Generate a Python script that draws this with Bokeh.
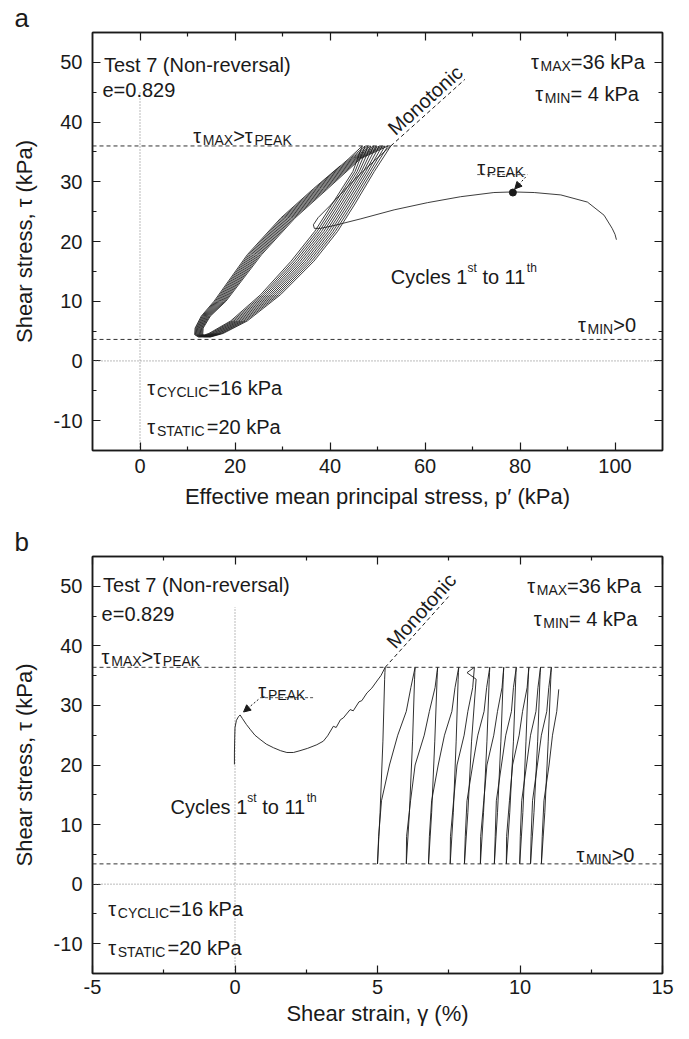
from bokeh.plotting import figure
from bokeh.models import (Range1d, FixedTicker, LinearAxis, CustomJSTickFormatter,
                          Title, Arrow, NormalHead, Span)
from bokeh.layouts import column
from bokeh.embed import file_html
from bokeh.resources import INLINE
from bokeh.core.properties import value

FONT = "Liberation Sans"
INK = "#1a1a1a"

# ======================= DATA: panel a (stress path) =======================
mono_a_p = [100.3, 100.0, 99.4, 97.7, 94.2, 88.6, 83.0, 78.5, 74.5, 67.5, 60.5, 53.5,
            46.5, 41.0, 38.0, 36.7, 36.5, 37.5, 40.0, 43.5, 47.0, 50.0, 52.8]
mono_a_tau = [20.3, 21.2, 22.2, 24.4, 26.6, 27.8, 28.2, 28.3, 28.2, 27.5, 26.5, 25.3,
              23.8, 22.7, 22.2, 22.2, 22.8, 24.0, 26.0, 29.0, 31.8, 34.0, 36.0]

tau_a_unload = [36.0, 31.7, 26.1, 21.7, 16.7, 11.1, 6.7, 4.6, 4.0]
p_a_unload = [
    [52.8, 49.3, 45.1, 41.6, 36.6, 29.6, 22.6, 17.5, 14.8],
    [52.2, 48.85, 44.62, 41.12, 36.12, 29.18, 22.25, 17.2, 14.55],
    [51.6, 48.4, 44.14, 40.64, 35.64, 28.76, 21.9, 16.9, 14.3],
    [51.0, 47.95, 43.66, 40.16, 35.16, 28.34, 21.55, 16.6, 14.05],
    [50.4, 47.5, 43.18, 39.68, 34.68, 27.92, 21.2, 16.3, 13.8],
    [49.8, 47.05, 42.7, 39.2, 34.2, 27.5, 20.85, 16.0, 13.55],
    [49.2, 46.6, 42.22, 38.72, 33.72, 27.08, 20.5, 15.7, 13.3],
    [48.6, 46.15, 41.74, 38.24, 33.24, 26.66, 20.15, 15.4, 13.05],
    [48.0, 45.7, 41.26, 37.76, 32.76, 26.24, 19.8, 15.1, 12.8],
    [47.4, 45.25, 40.78, 37.28, 32.28, 25.82, 19.45, 14.8, 12.55],
    [46.8, 44.8, 40.3, 36.8, 31.8, 25.4, 19.1, 14.5, 12.3],
]
tau_a_load = [4.0, 4.4, 5.5, 7.5, 10.0, 17.8, 23.9, 28.9, 33.9, 36.0]
tau_a_load_last = [4.0, 4.4, 5.5, 7.5, 10.0, 17.8, 23.9, 28.9, 32.7]
p_a_load = [
    [14.8, 13.2, 13.3, 14.8, 18.1, 25.6, 32.6, 39.6, 46.5, 52.2],
    [14.55, 13.03, 13.13, 14.61, 17.85, 25.3, 32.3, 39.3, 46.22, 51.6],
    [14.3, 12.86, 12.96, 14.42, 17.6, 25.0, 32.0, 39.0, 45.94, 51.0],
    [14.05, 12.69, 12.79, 14.23, 17.35, 24.7, 31.7, 38.7, 45.66, 50.4],
    [13.8, 12.52, 12.62, 14.04, 17.1, 24.4, 31.4, 38.4, 45.38, 49.8],
    [13.55, 12.35, 12.45, 13.85, 16.85, 24.1, 31.1, 38.1, 45.1, 49.2],
    [13.3, 12.18, 12.28, 13.66, 16.6, 23.8, 30.8, 37.8, 44.82, 48.6],
    [13.05, 12.01, 12.11, 13.47, 16.35, 23.5, 30.5, 37.5, 44.54, 48.0],
    [12.8, 11.84, 11.94, 13.28, 16.1, 23.2, 30.2, 37.2, 44.26, 47.4],
    [12.55, 11.67, 11.77, 13.09, 15.85, 22.9, 29.9, 36.9, 43.98, 46.8],
    [12.3, 11.5, 11.6, 12.9, 15.6, 22.6, 29.6, 36.6, 42.2],
]
peak_a = (78.5, 28.2)
tau_max_line_a = 36.0
tau_min_line_a = 3.6

# ======================= DATA: panel b (stress-strain) =======================
mono_b_g = [-0.02, -0.02, -0.01, 0.00, 0.05, 0.12, 0.18, 0.26, 0.40, 0.53, 0.70, 0.88,
            1.10, 1.35, 1.60, 1.82, 2.05, 2.28, 2.55, 2.87, 3.10, 3.25, 3.45, 3.55,
            3.70, 3.80, 4.04, 4.15, 4.35, 4.45, 4.63, 4.80, 4.98, 5.12, 5.27]
mono_b_tau = [20.1, 22.0, 24.5, 26.3, 27.5, 28.1, 28.4, 27.8, 26.8, 26.0, 25.0, 24.3,
              23.5, 22.9, 22.4, 22.1, 22.1, 22.4, 22.8, 23.4, 24.0, 24.9, 26.5, 26.3,
              27.6, 27.9, 29.3, 29.1, 30.6, 30.8, 32.1, 32.9, 34.1, 35.0, 36.4]

tau_b_unload = [36.4, 35.5, 34.4, 24.0, 12.0, 3.4]
g_b_unload = [
    [5.27, 5.26, 5.25, 5.19, 5.09, 5.00],
    [6.32, 6.31, 6.30, 6.23, 6.12, 6.01],
    [7.11, 7.10, 7.09, 7.01, 6.90, 6.79],
    [7.85, 7.84, 7.83, 7.76, 7.66, 7.55],
    [8.40, 8.14, 8.46, 8.30, 8.17, 8.05],
    [8.94, 8.93, 8.92, 8.84, 8.72, 8.61],
    [9.43, 9.42, 9.41, 9.33, 9.21, 9.10],
    [9.87, 9.86, 9.85, 9.77, 9.64, 9.52],
    [10.31, 10.30, 10.29, 10.21, 10.10, 9.99],
    [10.72, 10.71, 10.70, 10.62, 10.49, 10.37],
    [11.10, 11.09, 11.08, 10.99, 10.87, 10.75],
]
tau_b_load = [3.4, 8.0, 14.0, 20.0, 25.0, 29.0, 33.0, 36.4]
tau_b_load_last = [3.4, 8.0, 14.0, 20.0, 25.0, 29.0, 32.7]
g_b_load = [
    [5.00, 5.04, 5.14, 5.42, 5.71, 6.01, 6.17, 6.32],
    [6.01, 6.02, 6.16, 6.32, 6.64, 6.82, 7.02, 7.11],
    [6.79, 6.82, 6.90, 7.13, 7.35, 7.61, 7.72, 7.85],
    [7.55, 7.56, 7.67, 7.79, 8.04, 8.17, 8.34, 8.40],
    [8.05, 8.08, 8.14, 8.34, 8.52, 8.74, 8.83, 8.94],
    [8.61, 8.62, 8.73, 8.84, 9.08, 9.21, 9.37, 9.43],
    [9.10, 9.13, 9.17, 9.35, 9.50, 9.70, 9.77, 9.87],
    [9.52, 9.53, 9.63, 9.74, 9.97, 10.09, 10.25, 10.31],
    [9.99, 10.01, 10.06, 10.23, 10.37, 10.56, 10.63, 10.72],
    [10.37, 10.39, 10.44, 10.61, 10.75, 10.94, 11.01, 11.10],
    [10.75, 10.78, 10.84, 11.02, 11.14, 11.29, 11.36],
]
tau_max_line_b = 36.4
tau_min_line_b = 3.4

# axis ticks
y_ticks = [-10, 0, 10, 20, 30, 40, 50]
y_minor = [-5, 5, 15, 25, 35, 45]
xa_ticks = [0, 20, 40, 60, 80, 100]
xa_minor = [10, 30, 50, 70, 90]
xb_ticks = [-5, 0, 5, 10, 15]
xb_minor = [-2.5, 2.5, 7.5, 12.5]

# ======================= helpers =======================
W = {' ': 278, '(': 333, ')': 333, '-': 333, '.': 278, ',': 278, '=': 584, '>': 584,
     '%': 889, 'τ': 480,
     'A': 667, 'C': 722, 'E': 667, 'I': 278, 'K': 667, 'L': 556, 'M': 833, 'N': 722,
     'P': 667, 'S': 667, 'T': 611, 'X': 667, 'Y': 667,
     'a': 556, 'c': 500, 'e': 556, 'h': 556, 'i': 222, 'k': 500, 'l': 222, 'n': 556,
     'o': 556, 'r': 333, 's': 500, 't': 278, 'v': 500, 'y': 500}


def tw(s, size):
    return sum(W.get(ch, 556) for ch in s) / 1000.0 * size


def rich(p, x, y, parts, size=20):
    off = 0.0
    for s, kind in parts:
        fs = {"n": size, "sub": 14, "sup": 12}[kind]
        dy = {"n": 0, "sub": 4, "sup": -9}[kind]
        # SVG collapses leading blanks: move them into the offset instead
        lead = len(s) - len(s.lstrip(" "))
        off += tw(" " * lead, fs)
        s = s.lstrip(" ")
        p.text(x=[x], y=[y], text=[s], x_offset=off, y_offset=dy,
               text_font=value(FONT), text_font_size=f"{fs}px",
               text_align="left", text_baseline="alphabetic", text_color=INK)
        off += tw(s, fs)


def style_axis(ax, standoff=10, label_standoff=10, blank=False):
    ax.axis_line_color = INK
    ax.axis_line_width = 1.5
    ax.major_tick_line_color = INK
    ax.minor_tick_line_color = INK
    ax.major_tick_line_width = 1.2
    ax.minor_tick_line_width = 1.2
    ax.major_tick_in = 8
    ax.major_tick_out = 0
    ax.minor_tick_in = 4
    ax.minor_tick_out = 0
    ax.major_label_text_font = FONT
    ax.major_label_text_font_size = "20px"
    ax.major_label_text_color = INK
    ax.major_label_standoff = standoff
    ax.axis_label_text_font = FONT
    ax.axis_label_text_font_size = "22px"
    ax.axis_label_text_font_style = "normal"
    ax.axis_label_text_color = INK
    ax.axis_label_standoff = label_standoff
    if blank:
        ax.formatter = CustomJSTickFormatter(code="return ''")
        ax.major_label_standoff = 0


def make_fig(xr, h, top, bottom, right, xt, xm, xlabel, bstand, blabstand, letter):
    p = figure(width=689, height=h, x_range=Range1d(*xr), y_range=Range1d(-15, 55),
               output_backend="svg", toolbar_location=None, tools="",
               min_border_left=92, min_border_right=right,
               min_border_top=top, min_border_bottom=bottom)
    p.grid.visible = False
    p.outline_line_color = INK
    p.outline_line_width = 1.5
    p.background_fill_color = "white"
    p.border_fill_color = "white"
    p.xaxis.ticker = FixedTicker(ticks=xt, minor_ticks=xm)
    p.yaxis.ticker = FixedTicker(ticks=y_ticks, minor_ticks=y_minor)
    p.xaxis.axis_label = xlabel
    p.yaxis.axis_label = "Shear stress, τ (kPa)"
    p.xaxis.major_label_overrides = {t: str(t) for t in xt}
    p.yaxis.major_label_overrides = {t: str(t) for t in y_ticks}
    style_axis(p.xaxis[0], standoff=bstand, label_standoff=blabstand)
    style_axis(p.yaxis[0], standoff=10, label_standoff=14)
    top_ax = LinearAxis(ticker=FixedTicker(ticks=xt, minor_ticks=xm))
    style_axis(top_ax, blank=True)
    p.add_layout(top_ax, "above")
    right_ax = LinearAxis(ticker=FixedTicker(ticks=y_ticks, minor_ticks=y_minor))
    style_axis(right_ax, blank=True)
    p.add_layout(right_ax, "right")
    p.add_layout(Title(text=letter, align="left", offset=-78, standoff=0,
                       text_font=FONT, text_font_size="26px",
                       text_font_style="normal", text_color=INK), "above")
    return p


def build_path(mx, my, un_x, un_t, ld_x, ld_t, ld_t_last):
    xs, ys = list(mx), list(my)
    n = len(un_x)
    for k in range(n):
        xs += un_x[k]
        ys += un_t
        xs += ld_x[k]
        ys += (ld_t if k < n - 1 else ld_t_last)
    return xs, ys


# ======================= panel a =======================
pa = make_fig((-10, 110), 520, 30, 70, 26, xa_ticks, xa_minor,
              "Effective mean principal stress, p′ (kPa)", 8, 8, "a")
pa.add_layout(Span(location=0, dimension="width", line_color="#777777",
                   line_dash="1 2", line_width=1))
pa.line([0, 0], [-15, 45], line_color="#777777", line_dash="1 2", line_width=1)
pa.add_layout(Span(location=tau_max_line_a, dimension="width", line_color="#333333",
                   line_dash="4 3", line_width=1))
pa.add_layout(Span(location=tau_min_line_a, dimension="width", line_color="#333333",
                   line_dash="4 3", line_width=1))
xa, ya = build_path(mono_a_p, mono_a_tau, p_a_unload, tau_a_unload,
                    p_a_load, tau_a_load, tau_a_load_last)
pa.line(xa, ya, line_color=INK, line_width=0.85)
pa.scatter([peak_a[0]], [peak_a[1]], size=7, color=INK)
# monotonic extension
pa.line([52.8, 68.4], [36.0, 47.15], line_color=INK, line_dash="4 3", line_width=1)
pa.text(x=[54.36], y=[37.12], text=["Monotonic"], angle=0.733,
        text_font=value(FONT), text_font_size="20px", text_align="left",
        text_baseline="bottom", text_color=INK)
# peak marker label
pa.line([71.0, 81.6], [31.2, 31.2], line_color="#555555", line_dash="3 2", line_width=1)
pa.add_layout(Arrow(end=NormalHead(size=7, fill_color=INK, line_color=INK, line_width=1),
                    x_start=81.2, y_start=30.8, x_end=78.9, y_end=28.8,
                    line_color=INK, line_dash="2 2", line_width=1))

texts_a = [
    (-7.6, 49.6, [("Test 7 (Non-reversal)", "n")]),
    (-7.9, 45.3, [("e=0.829", "n")]),
    (11.2, 37.7, [("τ", "n"), ("MAX", "sub"), (">", "n"), ("τ", "n"), ("PEAK", "sub")]),
    (82.3, 50.0, [("τ", "n"), ("MAX", "sub"), ("=36 kPa", "n")]),
    (83.2, 44.7, [("τ", "n"), ("MIN", "sub"), ("= 4 kPa", "n")]),
    (71.0, 32.3, [("τ", "n"), ("PEAK", "sub")]),
    (52.8, 14.0, [("Cycles 1", "n"), ("st", "sup"), (" to 11", "n"), ("th", "sup")]),
    (92.2, 6.1, [("τ", "n"), ("MIN", "sub"), (">0", "n")]),
    (1.55, -4.45, [("τ", "n"), ("CYCLIC", "sub"), ("=16 kPa", "n")]),
    (1.55, -11.1, [("τ", "n"), ("STATIC", "sub"), ("=20 kPa", "n")]),
]
for x, y, parts in texts_a:
    rich(pa, x, y, parts)

# ======================= panel b =======================
pb = make_fig((-5, 15), 519, 36, 66, 27, xb_ticks, xb_minor,
              "Shear strain, γ (%)", 6, 4, "b")
pb.add_layout(Span(location=0, dimension="width", line_color="#777777",
                   line_dash="1 2", line_width=1))
pb.line([0, 0], [-15, 46.5], line_color="#777777", line_dash="1 2", line_width=1)
pb.add_layout(Span(location=tau_max_line_b, dimension="width", line_color="#333333",
                   line_dash="4 3", line_width=1))
pb.add_layout(Span(location=tau_min_line_b, dimension="width", line_color="#333333",
                   line_dash="4 3", line_width=1))
xb, yb = build_path(mono_b_g, mono_b_tau, g_b_unload, tau_b_unload,
                    g_b_load, tau_b_load, tau_b_load_last)
pb.line(xb, yb, line_color=INK, line_width=0.9)
pb.line([5.27, 7.50], [36.4, 48.3], line_color=INK, line_dash="4 3", line_width=1)
pb.text(x=[5.74], y=[38.9], text=["Monotonic"], angle=0.838,
        text_font=value(FONT), text_font_size="20px", text_align="left",
        text_baseline="bottom", text_color=INK)
pb.line([0.88, 2.75], [31.3, 31.3], line_color="#555555", line_dash="3 2", line_width=1)
pb.add_layout(Arrow(end=NormalHead(size=7, fill_color=INK, line_color=INK, line_width=1),
                    x_start=0.82, y_start=31.0, x_end=0.30, y_end=28.9,
                    line_color=INK, line_dash="2 2", line_width=1))

texts_b = [
    (-4.63, 50.2, [("Test 7 (Non-reversal)", "n")]),
    (-4.68, 45.4, [("e=0.829", "n")]),
    (-4.68, 38.1, [("τ", "n"), ("MAX", "sub"), (">", "n"), ("τ", "n"), ("PEAK", "sub")]),
    (0.82, 32.4, [("τ", "n"), ("PEAK", "sub")]),
    (10.25, 50.1, [("τ", "n"), ("MAX", "sub"), ("=36 kPa", "n")]),
    (10.48, 44.5, [("τ", "n"), ("MIN", "sub"), ("= 4 kPa", "n")]),
    (-2.26, 13.0, [("Cycles 1", "n"), ("st", "sup"), (" to 11", "n"), ("th", "sup")]),
    (11.98, 4.9, [("τ", "n"), ("MIN", "sub"), (">0", "n")]),
    (-4.45, -4.1, [("τ", "n"), ("CYCLIC", "sub"), ("=16 kPa", "n")]),
    (-4.45, -10.8, [("τ", "n"), ("STATIC", "sub"), ("=20 kPa", "n")]),
]
for x, y, parts in texts_b:
    rich(pb, x, y, parts)

layout = column(pa, pb)
open("out.html", "w").write(file_html(layout, INLINE))
